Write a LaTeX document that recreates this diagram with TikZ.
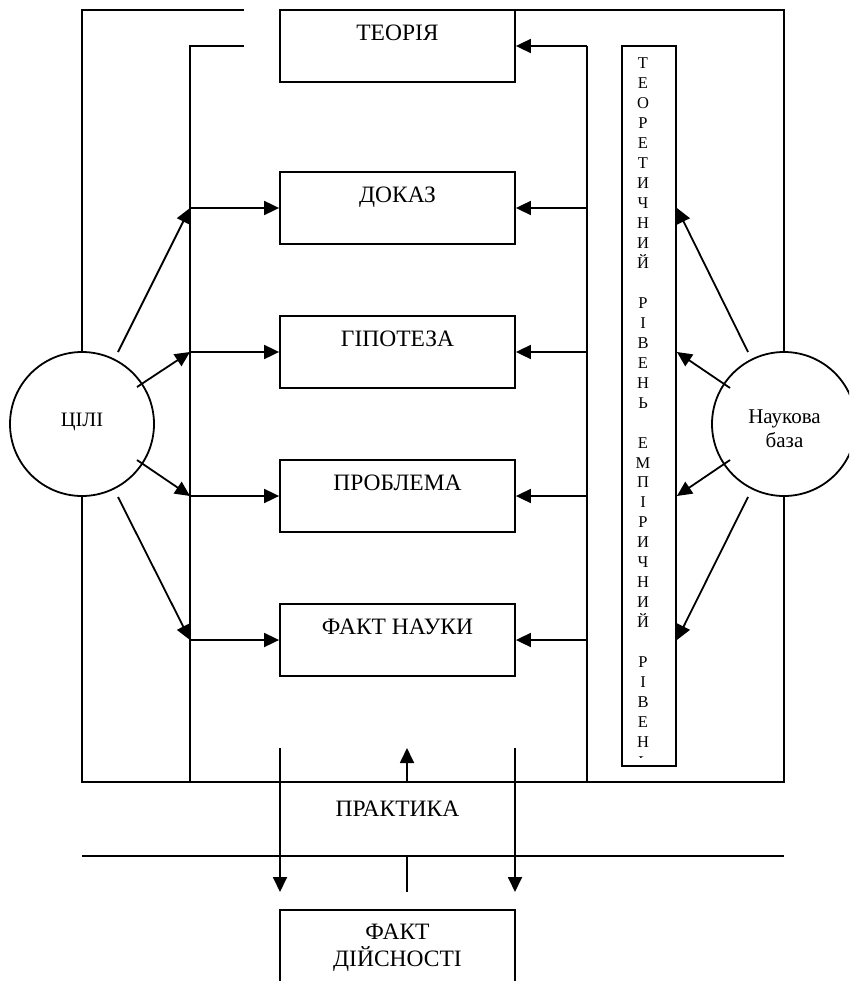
\documentclass[tikz,border=0pt]{standalone}
\usepackage{fontspec}
\setmainfont{Liberation Serif}
\usetikzlibrary{arrows.meta}
\tikzset{
  box/.style={draw, rectangle, minimum width=235pt, minimum height=72pt, inner sep=0pt},
  ring/.style={draw, circle, minimum size=144pt, inner sep=0pt},
  arr/.style={-{Triangle[length=15pt,width=14pt]}},
  lbl/.style={font=\fontsize{23.5}{27}\selectfont, inner sep=0pt, anchor=base},
  clbl/.style={font=\fontsize{21}{24}\selectfont, inner sep=0pt, anchor=base},
  vlet/.style={font=\fontsize{16.5}{20}\selectfont, inner sep=0pt, anchor=base}
}
\begin{document}
\begin{tikzpicture}[x=1pt,y=-1pt,line width=1.8pt]
\useasboundingbox (0,0) rectangle (849,981);
\clip (0,0) rectangle (849,981);

% boxes
\node[box] (teoria) at (397.5,46) {};
\node[box] (dokaz) at (397.5,208) {};
\node[box] (hipo) at (397.5,352) {};
\node[box] (probl) at (397.5,496) {};
\node[box] (faktn) at (397.5,640) {};
\node[box, minimum height=90pt] (faktd) at (397.5,955) {};

\node[lbl] (teoriaT) at ([yshift=-31pt]teoria.north) {ТЕОРІЯ};
\node[lbl] (dokazT) at ([yshift=-31pt]dokaz.north) {ДОКАЗ};
\node[lbl] (hipoT) at ([yshift=-31pt]hipo.north) {ГІПОТЕЗА};
\node[lbl] (problT) at ([yshift=-31pt]probl.north) {ПРОБЛЕМА};
\node[lbl] (faktnT) at ([yshift=-31pt]faktn.north) {ФАКТ НАУКИ};
\node[lbl] (faktd1) at ([yshift=-30pt]faktd.north) {ФАКТ};
\node[lbl] (faktd2) at ([yshift=-57pt]faktd.north) {ДІЙСНОСТІ};
\node[lbl] (prakt) at (397.5,816) {ПРАКТИКА};

% circles
\node[ring] (cili) at (82,424) {};
\node[clbl, font=\fontsize{20.5}{24}\selectfont] (ciliT) at (82,426) {ЦІЛІ};
\node[ring] (nauk) at (784,424) {};
\node[clbl] (naukT1) at (784.5,423) {Наукова};
\node[clbl] (naukT2) at (784.5,447) {база};

% vertical text box
\node[draw, rectangle, minimum width=54pt, minimum height=720pt, inner sep=0pt] (vbox) at (649,406) {};
\begin{scope}
\clip (622,46) rectangle (676,757);
\foreach \ch [count=\i from 0] in {Т,Е,О,Р,Е,Т,И,Ч,Н,И,Й}
  \node[vlet] (va\i) at (643,69+19.95*\i) {\ch};
\foreach \ch [count=\i from 12] in {Р,І,В,Е,Н,Ь}
  \node[vlet] (vb\i) at (643,69+19.95*\i) {\ch};
\foreach \ch [count=\i from 19] in {Е,М,П,І,Р,И,Ч,Н,И,Й}
  \node[vlet] (vc\i) at (643,69+19.95*\i) {\ch};
\foreach \ch [count=\i from 30] in {Р,І,В,Е,Н,Ь}
  \node[vlet] (vd\i) at (643,69+19.95*\i) {\ch};
\end{scope}

% frame coordinates
\coordinate (otl) at (82,10);
\coordinate (otlend) at (244,10);
\coordinate (obl) at (82,782);
\coordinate (obr) at (784,782);
\coordinate (otr) at (784,10);
\coordinate (itl) at (190,46);
\coordinate (itlend) at (244,46);
\coordinate (ibl) at (190,782);
\coordinate (irt) at (587,46);
\coordinate (irb) at (587,782);

\draw (otlend) -- (otl) -- (cili.north);
\draw (cili.south) -- (obl) -- (obr) -- (nauk.south);
\draw (nauk.north) -- (otr) -- (teoria.east |- otr);
\draw (itlend) -- (itl) -- (ibl);
\draw (irt) -- (irb);

% junctions and horizontal arrows
\foreach \b/\n in {dokaz/1,hipo/2,probl/3,faktn/4}{
  \coordinate (L\n) at (itl |- \b.west);
  \coordinate (R\n) at (irt |- \b.east);
  \coordinate (V\n) at (vbox.east |- \b.east);
  \draw[arr] (L\n) -- (\b.west);
  \draw[arr] (R\n) -- (\b.east);
}
\draw[arr] (irt) -- (teoria.east);

\coordinate (cs1) at (118,352);
\coordinate (cs2) at (137,387);
\coordinate (cs3) at (137,460);
\coordinate (cs4) at (118,497);
\coordinate (ns1) at (748,352);
\coordinate (ns2) at (730,388);
\coordinate (ns3) at (730,460);
\coordinate (ns4) at (748,497);
\foreach \n in {1,2,3,4}{
  \draw[arr] (cs\n) -- (L\n);
  \draw[arr] (ns\n) -- (V\n);
}

% practice
\coordinate (pdl) at (280,748);
\coordinate (pdle) at (280,892);
\coordinate (pdr) at (515,748);
\coordinate (pdre) at (515,892);
\coordinate (pu) at (407,782);
\coordinate (pue) at (407,748);
\coordinate (hl) at (82,856);
\coordinate (hr) at (784,856);
\coordinate (sl) at (407,856);
\coordinate (sle) at (407,892);
\draw[arr] (pdl) -- (pdle);
\draw[arr] (pdr) -- (pdre);
\draw[arr] (pu) -- (pue);
\draw (hl) -- (hr);
\draw (sl) -- (sle);
\end{tikzpicture}
\end{document}
